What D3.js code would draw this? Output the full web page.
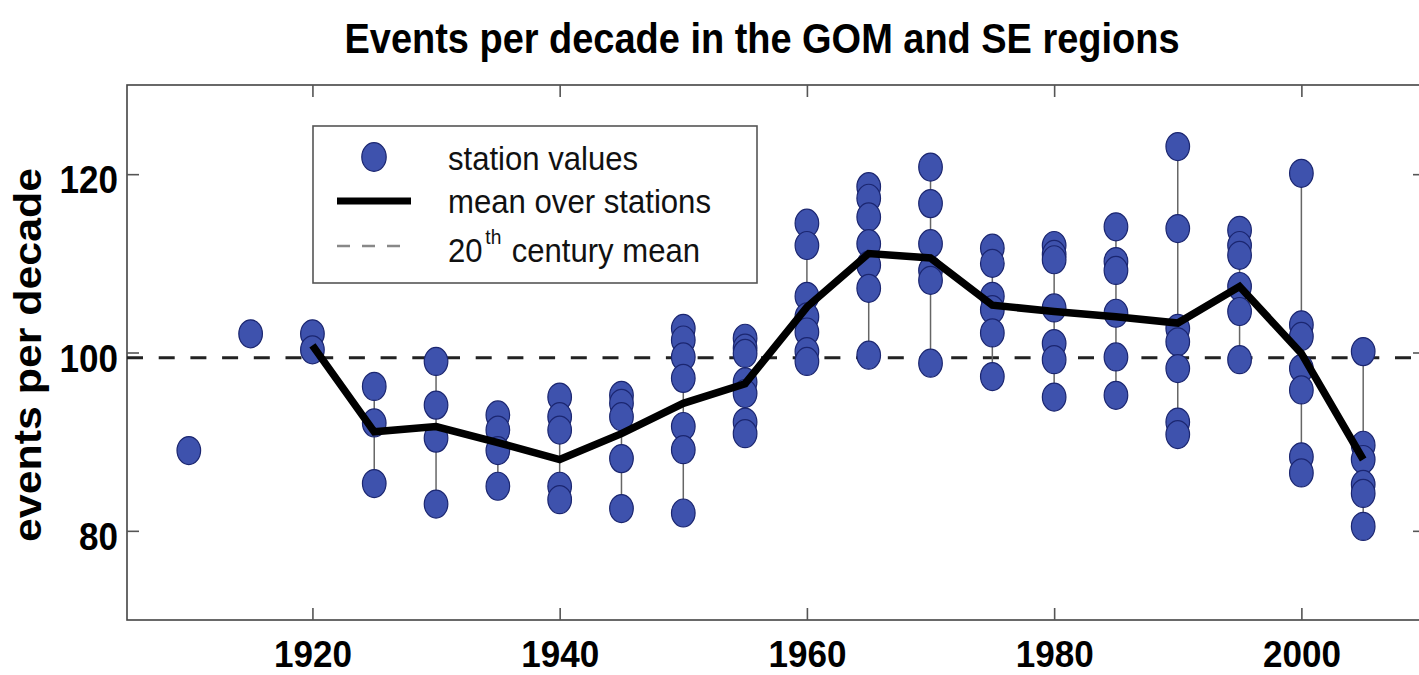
<!DOCTYPE html>
<html>
<head>
<meta charset="utf-8">
<script src="https://cdn.jsdelivr.net/npm/d3@7"></script>
<style>
  html, body { margin: 0; padding: 0; background: #fff; }
  svg { display: block; font-family: "Liberation Sans", Arial, Helvetica, sans-serif; }
</style>
</head>
<body>
<svg id="chart" width="1419" height="675"></svg>
<script>
// ---- data ----
const decades = [1910, 1915, 1920, 1925, 1930, 1935, 1940, 1945, 1950, 1955, 1960, 1965, 1970, 1975, 1980, 1985, 1990, 1995, 2000, 2005];
const stationValues = [
  [89.0],
  [102.1],
  [102.1, 100.3],
  [96.2, 92.1, 85.3],
  [99.0, 94.1, 90.4, 83.0],
  [93.0, 91.3, 89.0, 85.0],
  [95.0, 92.8, 91.3, 85.0, 83.5],
  [95.2, 94.3, 92.8, 88.1, 82.5],
  [102.7, 101.4, 99.5, 97.1, 91.7, 89.1, 82.0],
  [101.6, 100.5, 99.9, 96.7, 95.4, 92.2, 90.9],
  [114.5, 112.0, 106.3, 104.0, 102.3, 100.1, 99.0],
  [118.6, 117.3, 115.2, 112.2, 109.8, 107.2, 99.7],
  [120.8, 116.7, 112.2, 109.2, 108.1, 98.8],
  [111.7, 110.0, 106.3, 104.8, 102.2, 97.3],
  [112.0, 111.0, 110.4, 105.0, 101.0, 99.2, 95.0],
  [114.1, 110.2, 109.2, 104.4, 99.5, 95.2],
  [123.1, 113.9, 102.7, 101.2, 98.2, 92.2, 90.8],
  [113.7, 112.0, 110.9, 107.4, 104.6, 99.2],
  [120.1, 103.1, 101.8, 98.2, 95.8, 88.3, 86.5],
  [100.1, 89.6, 88.0, 85.2, 84.2, 80.5]
];
const meanYears = [1920, 1925, 1930, 1935, 1940, 1945, 1950, 1955, 1960, 1965, 1970, 1975, 1980, 1985, 1990, 1995, 2000, 2005];
const meanValues = [100.8, 91.1, 91.7, 89.9, 88.0, 90.9, 94.3, 96.5, 105.1, 111.1, 110.6, 105.3, 104.6, 104.0, 103.3, 107.4, 99.9, 88.0];
const centuryMean = 99.4;
const xTicks = [1920, 1940, 1960, 1980, 2000];
const yTicks = [80, 100, 120];
const titleText = "Events per decade in the GOM and SE regions";
const yLabelText = "events per decade";
const legendLabels = ["station values", "mean over stations", "century mean"];

// ---- layout ----
const svg = d3.select("#chart");
const pLeft = 127, pRight = 1425, pTop = 85, pBottom = 620;
const x = d3.scaleLinear().domain([1905, 2010]).range([pLeft, pRight]);
const y = d3.scaleLinear().domain([70, 130]).range([pBottom, pTop]);

const blue = "#3e52ad", blueStroke = "#1b2670";
const digitW = 19.5;

// frame
svg.append("rect").attr("x", pLeft).attr("y", pTop)
  .attr("width", pRight - pLeft).attr("height", pBottom - pTop)
  .attr("fill", "none").attr("stroke", "#444").attr("stroke-width", 1.6);

// axes
const xAxis = svg.append("g").attr("transform", `translate(0,${pBottom})`)
  .call(d3.axisBottom(x).tickValues(xTicks).tickFormat(d3.format("d")).tickSizeInner(-12).tickSizeOuter(0).tickPadding(21));
const xAxisTop = svg.append("g").attr("transform", `translate(0,${pTop})`)
  .call(d3.axisTop(x).tickValues(xTicks).tickFormat("").tickSizeInner(-12).tickSizeOuter(0));
const yAxis = svg.append("g").attr("transform", `translate(${pLeft},0)`)
  .call(d3.axisLeft(y).tickValues(yTicks).tickFormat(d3.format("d")).tickSizeInner(-12).tickSizeOuter(0).tickPadding(9));
const yAxisRight = svg.append("g").attr("transform", `translate(${pRight},0)`)
  .call(d3.axisRight(y).tickValues(yTicks).tickFormat("").tickSizeInner(-12).tickSizeOuter(0));

[xAxis, xAxisTop, yAxis, yAxisRight].forEach(g => {
  g.select(".domain").remove();
  g.selectAll(".tick line").attr("stroke", "#555").attr("stroke-width", 1.6);
});
xAxis.selectAll(".tick text")
  .attr("font-size", 37).attr("font-weight", "bold").attr("fill", "#000")
  .attr("font-family", "'Liberation Sans', Arial, sans-serif")
  .attr("textLength", d => String(d).length * digitW).attr("lengthAdjust", "spacingAndGlyphs");
yAxis.selectAll(".tick text")
  .attr("font-size", 39).attr("font-weight", "bold").attr("fill", "#000")
  .attr("font-family", "'Liberation Sans', Arial, sans-serif")
  .attr("dy", "0.48em")
  .attr("textLength", d => String(d).length * digitW).attr("lengthAdjust", "spacingAndGlyphs");

// title
svg.append("text").attr("x", 762).attr("y", 53).attr("text-anchor", "middle")
  .attr("font-size", 43).attr("font-weight", "bold").attr("fill", "#000")
  .attr("textLength", 835).attr("lengthAdjust", "spacingAndGlyphs")
  .text(titleText);

// y label
svg.append("text").attr("transform", "translate(41,355) rotate(-90)")
  .attr("text-anchor", "middle").attr("font-size", 38).attr("font-weight", "bold").attr("fill", "#000")
  .attr("textLength", 374).attr("lengthAdjust", "spacingAndGlyphs")
  .text(yLabelText);

// 20th century mean dashed line
svg.append("line").attr("x1", pLeft).attr("x2", pRight)
  .attr("y1", y(centuryMean)).attr("y2", y(centuryMean))
  .attr("stroke", "#222").attr("stroke-width", 3).attr("stroke-dasharray", "16,15.7");

// per decade connectors + points
const groups = decades.map((d, i) => ({ year: d, vals: stationValues[i] }));
svg.append("g").selectAll("line").data(groups.filter(g => g.vals.length > 1)).join("line")
  .attr("x1", g => x(g.year)).attr("x2", g => x(g.year))
  .attr("y1", g => y(d3.min(g.vals))).attr("y2", g => y(d3.max(g.vals)))
  .attr("stroke", "#666").attr("stroke-width", 1.5);

const pts = groups.flatMap(g => g.vals.map(v => ({ year: g.year, v })));
svg.append("g").selectAll("ellipse").data(pts).join("ellipse")
  .attr("cx", p => x(p.year)).attr("cy", p => y(p.v))
  .attr("rx", 11.8).attr("ry", 14)
  .attr("fill", blue).attr("stroke", blueStroke).attr("stroke-width", 1.2);

// mean line
const meanData = meanYears.map((yr, i) => ({ year: yr, v: meanValues[i] }));
svg.append("path").datum(meanData)
  .attr("d", d3.line().x(d => x(d.year)).y(d => y(d.v)))
  .attr("fill", "none").attr("stroke", "#000").attr("stroke-width", 7.5)
  .attr("stroke-linejoin", "miter").attr("stroke-linecap", "butt");

// legend
const lg = svg.append("g");
lg.append("rect").attr("x", 313).attr("y", 126).attr("width", 444).attr("height", 157)
  .attr("fill", "#fff").attr("stroke", "#555").attr("stroke-width", 1.6);
lg.append("ellipse").attr("cx", 374).attr("cy", 157).attr("rx", 12.2).attr("ry", 14.3)
  .attr("fill", blue).attr("stroke", blueStroke).attr("stroke-width", 1.2);
lg.append("line").attr("x1", 337).attr("x2", 411).attr("y1", 201).attr("y2", 201)
  .attr("stroke", "#000").attr("stroke-width", 7);
lg.append("line").attr("x1", 337).attr("x2", 411).attr("y1", 246).attr("y2", 246)
  .attr("stroke", "#888").attr("stroke-width", 2.5).attr("stroke-dasharray", "13,12");
const lt = (txt, xx, yy, w, fs) => lg.append("text").attr("x", xx).attr("y", yy)
  .attr("font-size", fs).attr("fill", "#111")
  .attr("textLength", w).attr("lengthAdjust", "spacingAndGlyphs").text(txt);
lt(legendLabels[0], 448, 170, 190, 34);
lt(legendLabels[1], 448, 213, 263, 34);
const t3 = lg.append("text").attr("x", 448).attr("y", 262)
  .attr("font-size", 34).attr("fill", "#111")
  .attr("textLength", 252).attr("lengthAdjust", "spacingAndGlyphs");
t3.append("tspan").text("20");
t3.append("tspan").attr("font-size", 21).attr("dy", -18).attr("dx", 3).text("th");
t3.append("tspan").attr("dy", 18).attr("dx", 2).text(" " + legendLabels[2]);
</script>
</body>
</html>
